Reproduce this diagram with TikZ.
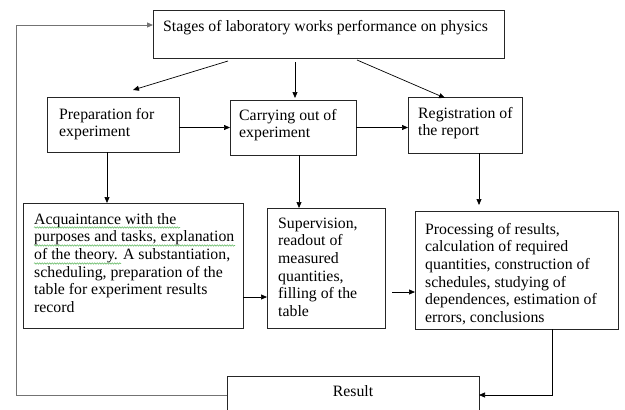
\documentclass[tikz,border=0pt]{standalone}
\usepackage{fontspec}
\setmainfont{Liberation Serif}
\usetikzlibrary{arrows.meta,decorations.pathmorphing,calc}
\newcommand\mylines[1]{\begin{tabular}[t]{@{}l@{}}#1\end{tabular}}
\definecolor{spellgreen}{RGB}{110,190,110}
\begin{document}
\begin{tikzpicture}[x=1pt,y=-1pt,
  box/.style={draw=black!85,line width=0.8pt,inner sep=0pt,outer sep=0pt},
  txt/.style={anchor=base west,inner sep=0pt,font=\fontsize{15.8}{17.7}\selectfont},
  arr/.style={draw=black,line width=0.7pt,-{Triangle[length=6pt,width=5pt]}},
  loopline/.style={draw=black!55,line width=1pt},
  spell/.style={draw=spellgreen,line width=0.6pt,decorate,decoration={snake,amplitude=0.7pt,segment length=2.5pt}}]
\useasboundingbox (0,0) rectangle (625,410);
% boxes
\node[box,minimum width=351pt,minimum height=48pt] (top) at (328.5,34) {};
\node[box,minimum width=132pt,minimum height=55pt] (prep) at (113,124.5) {};
\node[box,minimum width=126pt,minimum height=55pt] (carry) at (293,127.5) {};
\node[box,minimum width=114pt,minimum height=56pt] (reg) at (465,125) {};
\node[box,minimum width=220pt,minimum height=125pt] (acq) at (133,265.5) {};
\node[box,minimum width=118pt,minimum height=120pt] (sup) at (326,268) {};
\node[box,minimum width=203pt,minimum height=118pt] (proc) at (516.5,270) {};
\node[box,minimum width=252pt,minimum height=38pt] (result) at (353,395) {};
% texts
\node[txt] (topt) at (163,31) {Stages of laboratory works performance on physics};
\node[txt] (prept) at (59,119) {\mylines{Preparation for\\experiment}};
\node[txt] (carryt) at (239,120) {\mylines{Carrying out of\\experiment}};
\node[txt] (regt) at (418,118) {\mylines{Registration of\\the report}};
\node[txt] (acqt) at (34,224) {\mylines{Acquaintance with the\\purposes and tasks, explanation\\of the theory. A substantiation,\\scheduling, preparation of the\\table for experiment results\\record}};
\node[txt] (supt) at (278,228) {\mylines{Supervision,\\readout of\\measured\\quantities,\\filling of the\\table}};
\node[txt] (proct) at (425,234) {\mylines{Processing of results,\\calculation of required\\quantities, construction of\\schedules, studying of\\dependences, estimation of\\errors, conclusions}};
\node[txt,anchor=base] (rest) at (353,396) {Result};
% spell-check underlines
\draw[spell] (34,227.5) -- (180,227.5);
\draw[spell] (34,245.5) -- (235,245.5);
\draw[spell] (34,263.5) -- (121,263.5);
% connectors
\draw[arr] ($(top.south)+(-100.5,3)$) -- ($(prep.north)+(20,-7)$);
\draw[arr] ($(top.south -| carry.north)+(2,4)$) -- ($(carry.north)+(2,-2)$);
\draw[arr] ($(top.south)+(28.5,2)$) -- ($(reg.north)+(-20,1)$);
\draw[arr] (prep.east |- carry.west) -- (carry.west);
\draw[arr] (carry.east) -- (carry.east -| reg.west);
\draw[arr] ($(prep.south)+(-6,0)$) -- ($(prep.south |- acq.north)+(-6,0)$);
\draw[arr] ($(carry.south)+(6,0)$) -- ($(carry.south |- sup.north)+(6,0)$);
\draw[arr] ($(reg.south)+(14,0)$) -- ($(reg.south |- proc.north)+(14,-6)$);
\draw[arr] ($(acq.east)+(0,31.5)$) -- ($(acq.east -| sup.west)+(0,31.5)$);
\draw[arr] ($(sup.east)+(7,24)$) -- ($(sup.east -| proc.west)+(0,24)$);
\draw[arr] ($(proc.south)+(35.5,0)$) |- (result.east);
\coordinate (lc) at (16,25);
\draw[loopline] (result.west) -| (lc);
\draw[arr,draw=black!55,line width=1pt] (lc) -- ($(top.west)+(0,-9)$);
\end{tikzpicture}
\end{document}
